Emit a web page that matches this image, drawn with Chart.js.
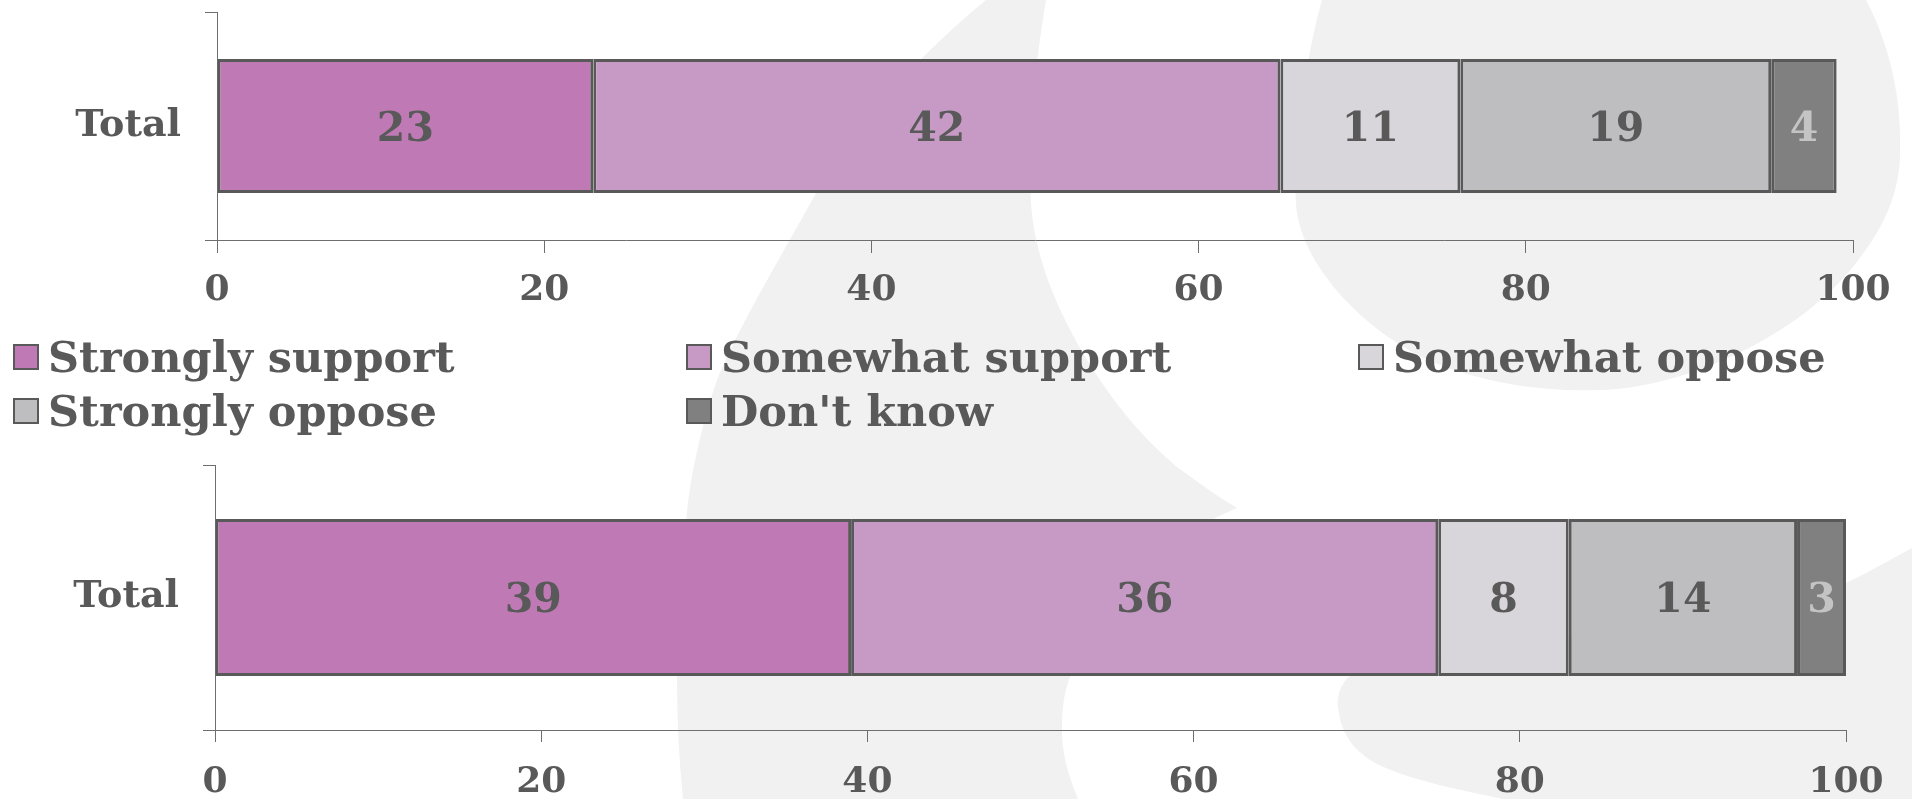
<!DOCTYPE html>
<html>
<head>
<meta charset="utf-8">
<script src="https://cdn.jsdelivr.net/npm/chart.js@4.4.1/dist/chart.umd.min.js"></script>
<style>
  html, body { margin: 0; padding: 0; background: #ffffff; }
  body { width: 1912px; height: 799px; overflow: hidden; position: relative; font-family: "DejaVu Serif", Georgia, serif; }
  #bg { position: absolute; left: 0; top: 0; }
  #c1 { position: absolute; left: 0; top: 0; }
  #c2 { position: absolute; left: 0; top: 450px; }
  .lg { position: absolute; height: 54px; display: flex; align-items: center; white-space: nowrap;
        font-family: "DejaVu Serif", serif; font-weight: bold; font-size: 43px; color: #595959; }
  .lg .box { width: 22px; height: 22px; border: 2px solid #595959; margin-right: 9px; flex: none; }
</style>
</head>
<body>
<canvas id="bg" width="1912" height="799"></canvas>
<canvas id="c1" width="1912" height="320"></canvas>
<div id="legend"></div>
<canvas id="c2" width="1912" height="349"></canvas>
<script>
// ---- data ----
const categories = ['Total'];
const seriesNames = ['Strongly support', 'Somewhat support', 'Somewhat oppose', 'Strongly oppose', "Don't know"];
const topValues = [23, 42, 11, 19, 4];
const bottomValues = [39, 36, 8, 14, 3];
const xTickValues = [0, 20, 40, 60, 80, 100];

// ---- styles ----
const seriesColors = ['#bf7ab5', '#c69ac5', '#d8d6da', '#bebdc0', '#808080'];
const labelColors = ['#595959', '#595959', '#595959', '#595959', '#c4c4c4'];
const textColor = '#595959';
const axisColor = '#6e6e6e';
const fontFamily = '"DejaVu Serif", serif';

// ---- background decoration ----
(function drawBg() {
  const ctx = document.getElementById('bg').getContext('2d');
  ctx.fillStyle = '#f1f1f1';
  // swoosh
  ctx.beginPath();
  ctx.moveTo(986, 0);
  ctx.bezierCurveTo(900, 70, 840, 150, 810, 204);
  ctx.bezierCurveTo(770, 275, 735, 335, 717, 380);
  ctx.bezierCurveTo(700, 430, 690, 480, 687, 513);
  ctx.bezierCurveTo(680, 580, 676, 640, 677, 680);
  ctx.bezierCurveTo(677, 720, 679, 760, 683, 799);
  ctx.lineTo(1078, 799);
  ctx.bezierCurveTo(1068, 775, 1061, 750, 1062, 727);
  ctx.bezierCurveTo(1062, 705, 1065, 690, 1070, 677);
  ctx.bezierCurveTo(1090, 610, 1150, 555, 1217, 517);
  ctx.lineTo(1237, 508);
  ctx.bezierCurveTo(1215, 495, 1195, 480, 1177, 467);
  ctx.bezierCurveTo(1145, 440, 1120, 410, 1100, 380);
  ctx.bezierCurveTo(1060, 320, 1035, 260, 1031, 204);
  ctx.bezierCurveTo(1028, 130, 1036, 60, 1046, 0);
  ctx.closePath();
  ctx.fill();
  // top-right blob
  ctx.beginPath();
  ctx.moveTo(1322, 0);
  ctx.bezierCurveTo(1305, 60, 1293, 150, 1296, 204);
  ctx.bezierCurveTo(1300, 270, 1380, 350, 1461, 372);
  ctx.bezierCurveTo(1500, 385, 1550, 392, 1600, 390);
  ctx.bezierCurveTo(1690, 388, 1810, 330, 1862, 255);
  ctx.bezierCurveTo(1885, 225, 1900, 190, 1900, 153);
  ctx.bezierCurveTo(1902, 100, 1890, 45, 1866, 0);
  ctx.closePath();
  ctx.fill();
  // lower-right shape
  ctx.beginPath();
  ctx.moveTo(1912, 548);
  ctx.bezierCurveTo(1880, 565, 1840, 590, 1799, 601);
  ctx.bezierCurveTo(1700, 625, 1550, 640, 1461, 652);
  ctx.bezierCurveTo(1400, 660, 1360, 668, 1347, 678);
  ctx.bezierCurveTo(1338, 690, 1336, 700, 1339, 713);
  ctx.bezierCurveTo(1342, 735, 1355, 752, 1377, 764);
  ctx.bezierCurveTo(1410, 780, 1460, 790, 1503, 799);
  ctx.lineTo(1912, 799);
  ctx.closePath();
  ctx.fill();
})();

// ---- value labels plugin ----
const valueLabels = {
  id: 'valueLabels',
  afterDatasetsDraw(chart) {
    const ctx = chart.ctx;
    ctx.save();
    ctx.font = 'bold 41px ' + fontFamily;
    ctx.textAlign = 'center';
    ctx.textBaseline = 'middle';
    chart.data.datasets.forEach((ds, i) => {
      const meta = chart.getDatasetMeta(i);
      meta.data.forEach((el, j) => {
        const v = ds.data[j];
        ctx.fillStyle = labelColors[i];
        ctx.fillText(String(v), (el.x + el.base) / 2, el.y + 4);
      });
    });
    ctx.restore();
  }
};

function makeChart(canvasId, values, cfg) {
  const tickFont = { family: fontFamily, weight: 'bold', size: 36 };
  const catFont = { family: fontFamily, weight: 'bold', size: 38 };
  return new Chart(document.getElementById(canvasId), {
    type: 'bar',
    data: {
      labels: categories,
      datasets: seriesNames.map((name, i) => ({
        label: name,
        data: [values[i]],
        backgroundColor: seriesColors[i],
        borderColor: '#595959',
        borderWidth: 3,
        borderSkipped: false,
        barPercentage: cfg.barPct,
        categoryPercentage: 1
      }))
    },
    options: {
      indexAxis: 'y',
      responsive: false,
      animation: false,
      events: [],
      layout: { padding: { top: cfg.top, right: cfg.right, left: 0, bottom: 0 } },
      plugins: { legend: { display: false }, tooltip: { enabled: false } },
      scales: {
        x: {
          stacked: true, min: 0, max: 100,
          afterBuildTicks(s) { s.ticks = xTickValues.map(v => ({ value: v })); },
          ticks: { font: tickFont, color: textColor, padding: cfg.tickPad, maxRotation: 0 },
          grid: { drawOnChartArea: false, tickLength: cfg.xTick, color: axisColor, lineWidth: 1 },
          border: { color: axisColor, width: 1 },
          afterFit(s) { s.height = cfg.xHeight; s.paddingLeft = 0; s.paddingRight = 0; }
        },
        y: {
          stacked: true,
          ticks: { font: catFont, color: textColor, padding: 24 },
          grid: { drawOnChartArea: false, tickLength: 12, color: axisColor, lineWidth: 1 },
          border: { color: axisColor, width: 1 },
          afterFit(s) { s.width = cfg.yWidth; s.paddingTop = 0; s.paddingBottom = 0; }
        }
      }
    },
    plugins: [valueLabels]
  });
}

makeChart('c1', topValues, { top: 12, right: 59, yWidth: 217, xHeight: 80, xTick: 13, tickPad: 16, barPct: 0.588 });
makeChart('c2', bottomValues, { top: 15, right: 66, yWidth: 215, xHeight: 69, xTick: 12, tickPad: 19, barPct: 0.592 });

// ---- legend (HTML, built from series names and colours) ----
const legendCols = [13, 686, 1358];
const legendRows = [330, 384];
const legendEl = document.getElementById('legend');
seriesNames.forEach((name, i) => {
  const item = document.createElement('div');
  item.className = 'lg';
  item.style.left = legendCols[i % 3] + 'px';
  item.style.top = legendRows[Math.floor(i / 3)] + 'px';
  const box = document.createElement('span');
  box.className = 'box';
  box.style.background = seriesColors[i];
  const txt = document.createElement('span');
  txt.textContent = name;
  item.appendChild(box);
  item.appendChild(txt);
  legendEl.appendChild(item);
});
</script>
</body>
</html>
